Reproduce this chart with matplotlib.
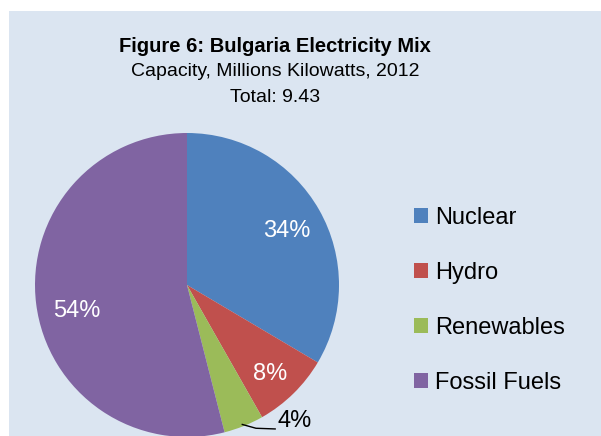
import matplotlib
matplotlib.use("Agg")
import matplotlib.pyplot as plt
from matplotlib.patches import Rectangle, Patch
import numpy as np

plt.rcParams['font.family'] = ['Liberation Sans', 'DejaVu Sans']

# capacity, millions kW, 2012
sources = ["Nuclear", "Hydro", "Renewables", "Fossil Fuels"]
capacity = [3.16, 0.78, 0.40, 5.09]
colors = ["#4F81BD", "#C0504D", "#9BBB59", "#8064A2"]
title = "Figure 6: Bulgaria Electricity Mix"
subtitle = "Capacity, Millions Kilowatts, 2012"
total_label = "Total: 9.43"

W, H = 601, 436
fig = plt.figure(figsize=(W / 100, H / 100), dpi=100)
fig.patch.set_facecolor("white")
fig.patches.append(Rectangle((9 / W, 0), 1, 1 - 11 / H, transform=fig.transFigure,
                             facecolor="#DBE5F1", edgecolor="none", zorder=-5))

cx, cy, r = 187, 285, 152
ax = fig.add_axes([(cx - r) / W, (H - cy - r) / H, 2 * r / W, 2 * r / H])
ax.set_facecolor("none")
wedges, texts = ax.pie(capacity, colors=colors, startangle=90, counterclock=False,
                       radius=1, wedgeprops=dict(linewidth=0))
ax.set_xlim(-1, 1)
ax.set_ylim(-1, 1)
ax.set_aspect("equal")
ax.axis("off")

pct = [100 * v / sum(capacity) for v in capacity]
# label placement: radial distance and angle nudge (deg); None = outside label
dists = [0.745, 0.80, None, 0.745]
nudge = [-1.2, -1.5, 0, 6.0]
for w, p, d, dn in zip(wedges, pct, dists, nudge):
    mid = np.deg2rad((w.theta1 + w.theta2) / 2 + dn)
    if d is None:
        # small slice: label outside with a leader line
        ex, ey = np.cos(mid), np.sin(mid)
        ax.plot([ex - 0.01, ex + 0.08, 0.58], [ey + 0.01, ey - 0.015, -0.947],
                color="black", lw=1, clip_on=False)
        ax.text(0.593, -0.893, f"{p:.0f}%", fontsize=17, color="black",
                ha="left", va="center", clip_on=False)
        continue
    ax.text(d * np.cos(mid), d * np.sin(mid), f"{p:.0f}%", fontsize=17,
            color="white", ha="center", va="center")

fig.text(275 / W, 1 - 46 / H, title, fontsize=14.5, fontweight="bold",
         ha="center", va="center")
fig.text(275 / W, 1 - 71 / H, subtitle, fontsize=14, ha="center", va="center")
fig.text(275 / W, 1 - 97 / H, total_label, fontsize=14, ha="center", va="center")

handles = [Patch(facecolor=c, edgecolor="none") for c in colors]
fig.legend(handles, sources, loc="upper left", bbox_to_anchor=(414 / W, 1 - 207 / H),
           frameon=False, fontsize=17, handlelength=0.6, handleheight=0.6,
           handletextpad=0.3, labelspacing=1.4, borderaxespad=0, borderpad=0)

fig.savefig("out.png", dpi=100)
